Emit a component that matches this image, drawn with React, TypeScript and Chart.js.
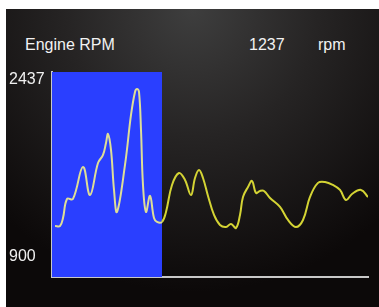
import React, { useEffect, useRef } from "react";
import { Chart, registerables } from "chart.js";

Chart.register(...registerables);

// Sample times (arbitrary units along the x axis)
const sampleTimes = [
  3, 8, 11, 15, 21, 31, 38, 46, 51, 54, 56, 59, 62, 65, 73, 79, 83, 85, 87, 89, 91, 94, 98,
  102, 105, 110, 114, 120, 127, 133, 139, 143, 147, 151, 156, 162, 168, 174, 179, 184, 188,
  191, 196, 200, 204, 208, 212, 218, 228, 236, 244, 251, 258, 266, 273, 281, 288, 294, 300,
  309, 316,
];
// Engine RPM readings
const rpmValues = [
  1169, 1169, 1239, 1404, 1404, 1682, 1438, 1716, 1786, 1890, 1968, 1829, 1482, 1291, 1699,
  2133, 2333, 2359, 2333, 2003, 1525, 1291, 1430, 1239, 1204, 1204, 1291, 1525, 1629, 1569,
  1438, 1586, 1655, 1586, 1430, 1265, 1178, 1160, 1187, 1152, 1265, 1421, 1508, 1560, 1456,
  1473, 1473, 1412, 1334, 1221, 1160, 1221, 1421, 1543, 1551, 1525, 1482, 1395, 1447, 1482,
  1421,
];
// Y axis tick labels
const yTicks = [900, 2437];
const yMin = 726;
const yMax = 2506;
const xMin = 0;
const xMax = 316;
// Highlighted window (x range)
const highlightStart = 0;
const highlightEnd = 110;

const titleText = "Engine RPM";
const currentValue = "1237";
const unitText = "rpm";

const FONT = "'Liberation Sans', Arial, sans-serif";

export default function App() {
  const canvasRef = useRef<HTMLCanvasElement | null>(null);

  useEffect(() => {
    const canvas = canvasRef.current;
    if (!canvas) return;

    const highlightPlugin = {
      id: "highlightWindow",
      beforeDatasetsDraw(chart: any) {
        const { ctx, chartArea, scales } = chart;
        const x0 = scales.x.getPixelForValue(highlightStart);
        const x1 = scales.x.getPixelForValue(highlightEnd);
        ctx.save();
        ctx.fillStyle = "rgb(42,63,255)";
        ctx.fillRect(x0, chartArea.top, x1 - x0, chartArea.bottom - chartArea.top);
        ctx.restore();
      },
    };

    const chart = new Chart(canvas, {
      type: "line",
      data: {
        datasets: [
          {
            data: sampleTimes.map((t, i) => ({ x: t, y: rpmValues[i] })),
            borderColor: "rgb(212,212,52)",
            borderWidth: 2,
            pointRadius: 0,
            tension: 0.4,
            fill: false,
            segment: {
              borderColor: (c: any) =>
                c.p1.parsed.x <= highlightEnd ? "rgb(222,222,150)" : "rgb(212,212,52)",
            },
          },
        ],
      },
      options: {
        animation: false,
        responsive: false,
        events: [],
        layout: { padding: { left: 3, top: 63, right: 11, bottom: 30 } },
        plugins: {
          legend: { display: false },
          tooltip: { enabled: false },
          title: { display: false },
        },
        scales: {
          x: {
            type: "linear",
            min: xMin,
            max: xMax,
            grid: { display: false },
            border: { display: true, color: "#c8c8c8", width: 2 },
            ticks: { display: false },
            afterFit(scale: any) {
              scale.height = 0;
            },
          },
          y: {
            type: "linear",
            min: yMin,
            max: yMax,
            grid: { display: false },
            border: { display: true, color: "#c8c8c8", width: 2 },
            afterBuildTicks(scale: any) {
              scale.ticks = yTicks.map((v) => ({ value: v }));
            },
            ticks: {
              color: "#f0f0f0",
              font: { family: FONT, size: 16 },
              crossAlign: "far",
              padding: 6,
              autoSkip: false,
              callback: (v: any) => String(v),
            },
            afterFit(scale: any) {
              scale.width = 43;
            },
          },
        },
      },
      plugins: [highlightPlugin],
    });

    return () => chart.destroy();
  }, []);

  return (
    <div
      style={{
        position: "absolute",
        left: 6,
        top: 9,
        width: 373,
        height: 298,
        overflow: "hidden",
        background:
          "radial-gradient(ellipse 75% 95% at 50% 0%, #3e3e3e 0%, #262424 45%, #0c0909 100%)",
        fontFamily: FONT,
      }}
    >
      <div
        style={{
          position: "absolute",
          left: 19,
          top: 27,
          fontSize: 16,
          color: "#f2f2f2",
          whiteSpace: "nowrap",
        }}
      >
        {titleText}
      </div>
      <div
        style={{
          position: "absolute",
          left: 243,
          top: 27,
          fontSize: 16,
          color: "#f2f2f2",
          whiteSpace: "nowrap",
        }}
      >
        {currentValue}
      </div>
      <div
        style={{
          position: "absolute",
          left: 312,
          top: 27,
          fontSize: 16,
          color: "#f2f2f2",
          whiteSpace: "nowrap",
        }}
      >
        {unitText}
      </div>
      <canvas
        ref={canvasRef}
        width={373}
        height={298}
        style={{ position: "absolute", left: 0, top: 0, width: 373, height: 298 }}
      />
    </div>
  );
}
